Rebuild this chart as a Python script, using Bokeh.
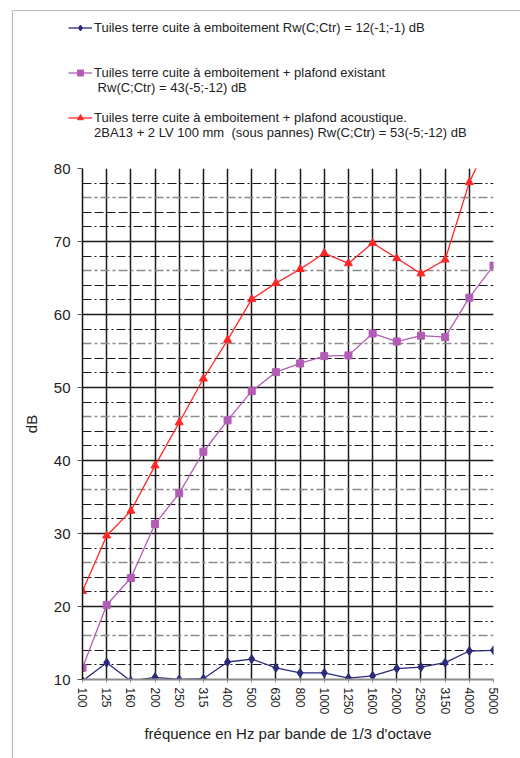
from bokeh.plotting import figure
from bokeh.layouts import column, row
from bokeh.models import (Range1d, FixedTicker, SingleIntervalTicker, Legend, LegendItem,
                          Grid, BoxAnnotation)
from bokeh.embed import file_html
from bokeh.resources import INLINE

freqs = ["100", "125", "160", "200", "250", "315", "400", "500", "630", "800",
         "1000", "1250", "1600", "2000", "2500", "3150", "4000", "5000"]
tuiles = [9.8, 12.3, 9.8, 10.3, 10.0, 10.1, 12.4, 12.8, 11.6, 10.9,
          10.9, 10.2, 10.5, 11.5, 11.7, 12.3, 13.9, 14.0]
plafond_existant = [11.6, 20.2, 23.9, 31.3, 35.5, 41.2, 45.5, 49.5, 52.1, 53.3,
                    54.3, 54.4, 57.4, 56.3, 57.1, 56.9, 62.3, 66.7]
plafond_acoustique = [22.1, 29.7, 33.1, 39.3, 45.2, 51.2, 56.5, 62.1, 64.3, 66.2,
                      68.4, 67.0, 69.8, 67.7, 65.6, 67.5, 78.1, 85.1]

label1 = "Tuiles terre cuite à emboitement Rw(C;Ctr) = 12(-1;-1) dB"
label2a = "Tuiles terre cuite à emboitement + plafond existant"
label2b = " Rw(C;Ctr) = 43(-5;-12) dB"
label3a = "Tuiles terre cuite à emboitement + plafond acoustique."
label3b = "2BA13 + 2 LV 100 mm  (sous pannes) Rw(C;Ctr) = 53(-5;-12) dB"
x_title = "fréquence en Hz par bande de 1/3 d'octave"
y_title = "dB"

FONT = "Liberation Sans"
TXT = "#222222"
BLUE = "#2b2a7c"
PURPLE = "#b35cb5"
RED = "#ff2626"
FRAME = "#111111"

xs = list(range(len(freqs)))
y0, y1 = 10, 80


def bare_figure(w, h):
    f = figure(width=w, height=h, output_backend="svg", toolbar_location=None,
               x_range=Range1d(0, 1), y_range=Range1d(0, 1),
               x_axis_location=None, y_axis_location=None,
               min_border_left=0, min_border_right=0, min_border_top=0,
               min_border_bottom=0)
    f.outline_line_color = None
    f.grid.visible = False
    f.frame_align = False
    return f


def add_series(f, lw=1.3):
    r = []
    r.append(f.line(xs, tuiles, line_color=BLUE, line_width=lw))
    r.append(f.scatter(xs, tuiles, marker="diamond", size=9, fill_color=BLUE, line_color=BLUE))
    r.append(f.line(xs, plafond_existant, line_color=PURPLE, line_width=lw))
    r.append(f.scatter(xs, plafond_existant, marker="square", size=7,
                       fill_color=PURPLE, line_color=PURPLE))
    r.append(f.line(xs, plafond_acoustique, line_color=RED, line_width=lw))
    r.append(f.scatter(xs, plafond_acoustique, marker="triangle", size=8,
                       fill_color=RED, line_color=RED))
    return r


# ---------------- left strip: frame's left edge, full height ----------------
side = bare_figure(13, 758)
side.add_layout(BoxAnnotation(left=12, right=900, top=10, bottom=2000,
                              left_units="canvas", right_units="canvas",
                              top_units="canvas", bottom_units="canvas",
                              fill_alpha=0, line_color=FRAME, line_width=1.2))

# ---------------- legend strip (top) ----------------
top = bare_figure(507, 158)
top.add_layout(BoxAnnotation(left=-100, right=900, top=10, bottom=900,
                             left_units="canvas", right_units="canvas",
                             top_units="canvas", bottom_units="canvas",
                             fill_alpha=0, line_color=FRAME, line_width=1.2))
# legend keys: same series, lying outside this strip's visible ranges
k = add_series(top)
blank = top.line(xs, tuiles, line_alpha=0)

legend = Legend(items=[LegendItem(label=label1, renderers=[k[0], k[1]]),
                       LegendItem(label=" ", renderers=[blank]),
                       LegendItem(label="  ", renderers=[blank]),
                       LegendItem(label=label2a, renderers=[k[2], k[3]]),
                       LegendItem(label=label2b, renderers=[blank]),
                       LegendItem(label="   ", renderers=[blank]),
                       LegendItem(label=label3a, renderers=[k[4], k[5]]),
                       LegendItem(label=label3b, renderers=[blank])],
                location=(55, 18), orientation="vertical",
                border_line_color=None, background_fill_alpha=0,
                padding=0, margin=0, spacing=0, label_height=15, glyph_height=15,
                glyph_width=24, label_standoff=2,
                label_text_font=FONT, label_text_font_size="13px",
                label_text_color=TXT)
top.add_layout(legend)

# ---------------- main chart ----------------
p = figure(width=507, height=600, output_backend="svg", toolbar_location=None,
           x_range=Range1d(0, len(freqs) - 1), y_range=Range1d(y0, y1),
           min_border_left=69, min_border_right=27, min_border_top=10,
           min_border_bottom=79)
p.frame_align = False
p.outline_line_color = None
p.background_fill_color = "white"

p.xaxis.ticker = FixedTicker(ticks=xs)
p.xaxis.major_label_overrides = {i: f for i, f in enumerate(freqs)}
p.xaxis.major_label_orientation = "vertical"
p.xaxis.major_label_text_font = FONT
p.xaxis.major_label_text_font_size = "12px"
p.xaxis.major_label_text_color = TXT
p.xaxis.major_label_standoff = 5
p.xaxis.major_tick_out = 3
p.xaxis.major_tick_in = 0
p.xaxis.major_tick_line_color = "#888888"
p.xaxis.minor_tick_line_color = None
p.xaxis.axis_line_color = "#8a8a8a"
p.xaxis.axis_line_width = 2
p.xaxis.axis_label = x_title
p.xaxis.axis_label_text_font = FONT
p.xaxis.axis_label_text_font_size = "15px"
p.xaxis.axis_label_text_font_style = "normal"
p.xaxis.axis_label_text_color = TXT
p.xaxis.axis_label_standoff = 8

p.yaxis.ticker = SingleIntervalTicker(interval=10, num_minor_ticks=0)
p.yaxis.major_label_text_font = FONT
p.yaxis.major_label_text_font_size = "15px"
p.yaxis.major_label_text_color = TXT
p.yaxis.major_label_standoff = 7
p.yaxis.major_tick_out = 5
p.yaxis.major_tick_in = 0
p.yaxis.major_tick_line_color = "#555555"
p.yaxis.minor_tick_line_color = None
p.yaxis.axis_line_color = FRAME
p.yaxis.axis_line_width = 1.5
p.yaxis.axis_label = y_title
p.yaxis.axis_label_text_font = FONT
p.yaxis.axis_label_text_font_size = "15px"
p.yaxis.axis_label_text_font_style = "normal"
p.yaxis.axis_label_text_color = TXT
p.yaxis.axis_label_standoff = 11

p.xgrid.ticker = FixedTicker(ticks=xs)
p.xgrid.grid_line_color = "#1a1a1a"
p.xgrid.grid_line_width = 1.5
p.ygrid.grid_line_color = "#1a1a1a"
p.ygrid.grid_line_width = 1.5

minor_a = [v for v in range(y0, y1) if v % 10 in (2, 8)]
minor_b = [v for v in range(y0, y1) if v % 10 == 6]
minor_c = [v for v in range(y0, y1) if v % 10 == 4]
p.add_layout(Grid(dimension=1, ticker=FixedTicker(ticks=minor_a),
                  grid_line_color="#1a1a1a", grid_line_width=1.2,
                  grid_line_dash="9 3 2 3"))
p.add_layout(Grid(dimension=1, ticker=FixedTicker(ticks=minor_b),
                  grid_line_color="#8a8a8a", grid_line_width=1.7,
                  grid_line_dash="9 3 3 3"))
p.add_layout(Grid(dimension=1, ticker=FixedTicker(ticks=minor_c),
                  grid_line_color="#1a1a1a", grid_line_width=1.2,
                  grid_line_dash="9 3"))

add_series(p)

layout = row(side, column(top, p, spacing=0), spacing=0)

open("out.html", "w").write(file_html(layout, INLINE))
